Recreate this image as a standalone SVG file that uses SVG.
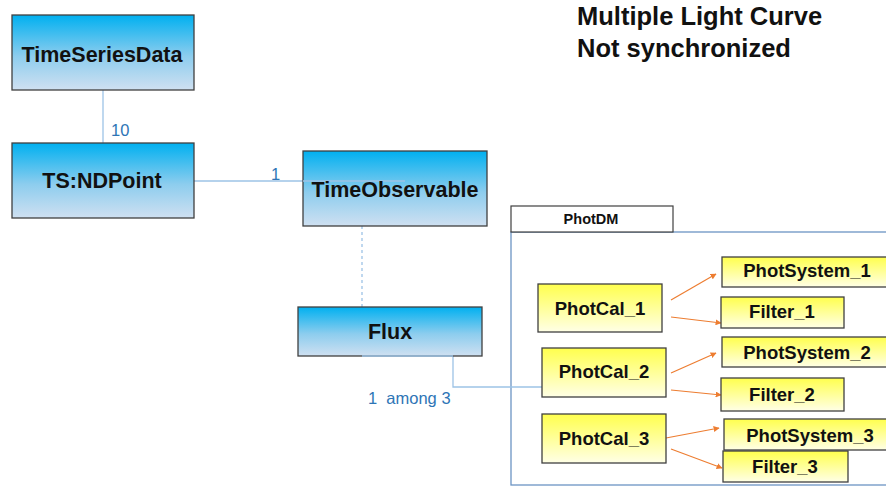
<svg xmlns="http://www.w3.org/2000/svg" width="886" height="486" viewBox="0 0 886 486">
<defs>
<linearGradient id="gBlue" x1="0" y1="0" x2="0" y2="1">
<stop offset="0" stop-color="#00b0f0"/>
<stop offset="0.55" stop-color="#8dcdee"/>
<stop offset="1" stop-color="#cfe0f1"/>
</linearGradient>
<linearGradient id="gYel" x1="0" y1="0" x2="0" y2="1">
<stop offset="0" stop-color="#ffff4d"/>
<stop offset="1" stop-color="#ffffe6"/>
</linearGradient>
<marker id="arr" viewBox="0 0 10 10" refX="9" refY="5" markerWidth="6" markerHeight="6" orient="auto" markerUnits="userSpaceOnUse">
<path d="M0,0 L10,5 L0,10 z" fill="#ed7d31"/>
</marker>
<style>
.bn{fill:url(#gBlue);stroke:#404040;stroke-width:1.3}
.yn{fill:url(#gYel);stroke:#404040;stroke-width:1.3}
.t{font-family:"Liberation Sans",Arial,sans-serif;font-weight:bold;fill:#111;text-anchor:middle}
.big{font-size:21.5px}
.sm{font-size:18.5px}
.lbl{font-family:"Liberation Sans",Arial,sans-serif;font-size:16.5px;fill:#2e75b6}
.c{stroke:#9dc3e6;stroke-width:1.3;fill:none}
.o{stroke:#ed7d31;stroke-width:1.2;fill:none;marker-end:url(#arr)}
</style>
</defs>
<rect width="886" height="486" fill="#ffffff"/>
<g id="title">
<text x="577" y="25" font-family="Liberation Sans,Arial,sans-serif" font-weight="bold" font-size="25.5" fill="#111">Multiple Light Curve</text>
<text x="577" y="57" font-family="Liberation Sans,Arial,sans-serif" font-weight="bold" font-size="25.5" fill="#111">Not synchronized</text>
</g>
<g id="PhotDM">
<rect x="511" y="232" width="390" height="253" fill="none" stroke="#6c94c4" stroke-width="1.3"/>
<rect x="511" y="206" width="162" height="26" fill="#ffffff" stroke="#404040" stroke-width="1.2"/>
<text class="t" x="591" y="224" font-size="14.5">PhotDM</text>
</g>
<g id="connectors">
<line class="c" x1="103" y1="90" x2="103" y2="143"/>
<line class="c" x1="194" y1="181" x2="405" y2="181"/>
<line class="c" x1="362" y1="226" x2="362" y2="307" stroke-dasharray="3,3"/>
<polyline class="c" points="453,356 453,387 543,387"/>
<line class="o" x1="671" y1="300" x2="716" y2="274"/>
<line class="o" x1="671" y1="317" x2="721" y2="323"/>
<line class="o" x1="671" y1="373" x2="716" y2="353"/>
<line class="o" x1="671" y1="390" x2="721" y2="395"/>
<line class="o" x1="666" y1="438" x2="719" y2="428"/>
<line class="o" x1="671" y1="449" x2="722" y2="468"/>
<text class="lbl" x="111" y="136">10</text>
<text class="lbl" x="271" y="180">1</text>
<text class="lbl" x="368" y="404" xml:space="preserve">1  among 3</text>
</g>
<g id="TimeSeriesData">
<rect class="bn" x="12" y="15" width="182" height="75"/>
<text class="t big" x="102" y="62">TimeSeriesData</text>
</g>
<g id="TSNDPoint">
<rect class="bn" x="12" y="143" width="182" height="75"/>
<text class="t big" x="102" y="188">TS:NDPoint</text>
</g>
<g id="TimeObservable">
<rect class="bn" x="303" y="151" width="184" height="75"/>
<line class="c" x1="303" y1="181" x2="405" y2="181"/>
<text class="t big" x="395" y="197">TimeObservable</text>
</g>
<g id="Flux">
<rect class="bn" x="298" y="307" width="184" height="49"/>
<line class="c" x1="362" y1="356" x2="453" y2="356"/>
<text class="t big" x="390" y="339">Flux</text>
</g>
<g id="PhotCal_1">
<rect class="yn" x="538" y="284" width="124" height="48"/>
<text class="t sm" x="600" y="315">PhotCal_1</text>
</g>
<g id="PhotCal_2">
<rect class="yn" x="542" y="348" width="124" height="49"/>
<text class="t sm" x="604" y="378">PhotCal_2</text>
</g>
<g id="PhotCal_3">
<rect class="yn" x="542" y="414" width="124" height="49"/>
<text class="t sm" x="604" y="445">PhotCal_3</text>
</g>
<g id="PhotSystem_1">
<rect class="yn" x="722" y="257" width="180" height="30"/>
<text class="t sm" x="807" y="277">PhotSystem_1</text>
</g>
<g id="Filter_1">
<rect class="yn" x="721" y="297" width="123" height="31"/>
<text class="t sm" x="782" y="318">Filter_1</text>
</g>
<g id="PhotSystem_2">
<rect class="yn" x="722" y="337" width="180" height="30"/>
<text class="t sm" x="807" y="359">PhotSystem_2</text>
</g>
<g id="Filter_2">
<rect class="yn" x="721" y="378" width="123" height="33"/>
<text class="t sm" x="782" y="401">Filter_2</text>
</g>
<g id="PhotSystem_3">
<rect class="yn" x="724" y="419" width="180" height="31"/>
<text class="t sm" x="810" y="442">PhotSystem_3</text>
</g>
<g id="Filter_3">
<rect class="yn" x="723" y="451" width="125" height="31"/>
<text class="t sm" x="785" y="473">Filter_3</text>
</g>
</svg>
